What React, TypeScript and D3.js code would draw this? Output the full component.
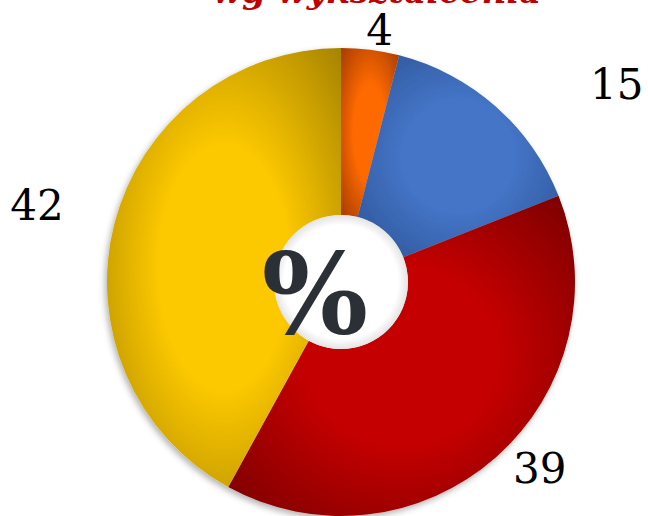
import React from 'react';
import * as d3 from 'd3';

const title = 'wg wykształcenia';
const categories = ['a', 'b', 'c', 'd'];
const values = [4, 15, 39, 42];
const labels = ['4', '15', '39', '42'];
const lightColors = ['#ff6a00', '#4474c6', '#c40000', '#fcc800'];
const darkColors = ['#a63c00', '#2c5394', '#7a0000', '#a88400'];

const W = 648, H = 516;
const cx = 341, cy = 282;
const outerR = 234, innerR = 67;

export default function App() {
  const pie = d3.pie<number>().sort(null).startAngle(0).endAngle(2 * Math.PI);
  const arcs = pie(values);
  const arc = d3.arc<d3.PieArcDatum<number>>().innerRadius(innerR).outerRadius(outerR);
  const labelArc = d3.arc<d3.PieArcDatum<number>>().innerRadius(outerR + 50).outerRadius(outerR + 50);

  // nudge labels like the original (outside the ring)
  const labelOffsets: [number, number][] = [[3, 30], [88, 16], [11, -27], [-29, -6]];

  return (
    <svg width={W} height={H} style={{ position: 'absolute', left: 0, top: 0, display: 'block' }}>
      <defs>
        {arcs.map((a, i) => (
          <radialGradient key={i} id={`g${i}`} cx="50%" cy="50%" r="70%">
            <stop offset="0%" stopColor={lightColors[i]} />
            <stop offset="40%" stopColor={lightColors[i]} />
            <stop offset="100%" stopColor={darkColors[i]} />
          </radialGradient>
        ))}
        <filter id="shadow" x="-20%" y="-20%" width="140%" height="140%">
          <feDropShadow dx="-2" dy="3" stdDeviation="3" floodColor="#000" floodOpacity="0.3" />
        </filter>
        <radialGradient id="hole" cx="50%" cy="50%" r="50%">
          <stop offset="85%" stopColor="#ffffff" />
          <stop offset="100%" stopColor="#e4e4e4" />
        </radialGradient>
      </defs>
      <rect width={W} height={H} fill="#ffffff" />
      <text x={377} y={3} textAnchor="middle" fontFamily="'DejaVu Serif', serif" fontWeight="bold"
        fontStyle="italic" fontSize={34} fill="#c00000">{title}</text>
      <g transform={`translate(${cx},${cy})`}>
        <g filter="url(#shadow)">
          {arcs.map((a, i) => (
            <path key={categories[i]} d={arc(a) || ''} fill={`url(#g${i})`} />
          ))}
        </g>
        <circle r={innerR} fill="url(#hole)" />
        {arcs.map((a, i) => {
          const [x, y] = labelArc.centroid(a);
          return (
            <text key={'l' + i} x={x + labelOffsets[i][0]} y={y + labelOffsets[i][1]} textAnchor="middle"
              dominantBaseline="central" fontFamily="'DejaVu Serif', serif" fontSize={42} fill="#000">
              {labels[i]}
            </text>
          );
        })}
        <text x={-26} y={11} textAnchor="middle" dominantBaseline="central"
          fontFamily="'DejaVu Serif', serif" fontWeight="bold" fontSize={112} fill="#2b2f36">%</text>
      </g>
    </svg>
  );
}
